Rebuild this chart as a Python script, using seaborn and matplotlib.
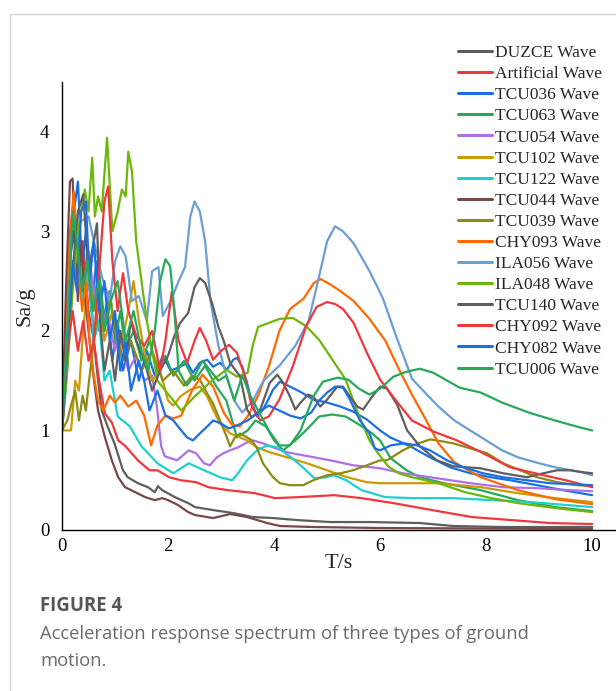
import numpy as np
import pandas as pd
import matplotlib
matplotlib.use("Agg")
import matplotlib.pyplot as plt
from matplotlib.lines import Line2D
from matplotlib.patches import Rectangle
import seaborn as sns

# ---------------- data ----------------
names = ["DUZCE Wave", "Artificial Wave", "TCU036 Wave", "TCU063 Wave", "TCU054 Wave",
         "TCU102 Wave", "TCU122 Wave", "TCU044 Wave", "TCU039 Wave", "CHY093 Wave",
         "ILA056 Wave", "ILA048 Wave", "TCU140 Wave", "CHY092 Wave", "CHY082 Wave",
         "TCU006 Wave"]

colors = ["#5e5e5e", "#f0373c", "#1c6fe3", "#27a85a", "#b06ee8",
          "#cc9a06", "#1fcfcf", "#7a4848", "#8c8c14", "#ff6a00",
          "#6a9ed4", "#6cb80a", "#5e5e5e", "#f0373c", "#1c6fe3",
          "#27a85a"]

t_duzce = [0, 0.08, 0.15, 0.22, 0.3, 0.38, 0.45, 0.52, 0.6, 0.68, 0.75, 0.86, 0.99, 1.09, 1.15, 1.24,
           1.43, 1.62, 1.75, 1.81, 1.89, 2.13, 2.38, 2.51, 2.85, 3.23, 3.6, 3.98, 4.43, 5.06, 5.81,
           6.75, 7.38, 8.32, 9.2, 10]
sa_duzce = [1.0, 1.9, 2.7, 3.0, 2.5, 2.9, 2.3, 2.6, 1.9, 1.5, 1.2, 1.04, 0.87, 0.7, 0.6, 0.53,
            0.47, 0.43, 0.38, 0.44, 0.4, 0.33, 0.27, 0.23, 0.2, 0.17, 0.13, 0.12, 0.1, 0.08, 0.08,
            0.07, 0.04, 0.03, 0.03, 0.03]

t_artificial = [0, 0.08, 0.15, 0.22, 0.3, 0.4, 0.5, 0.6, 0.7, 0.81, 0.94, 1.06, 1.2, 1.43, 1.65, 1.8,
                2.02, 2.24, 2.53, 2.76, 3.13, 3.64, 4.02, 4.46, 5.13, 5.65, 6.25, 6.98, 7.73, 8.47,
                9.2, 10]
sa_artificial = [1.0, 2.0, 3.0, 3.3, 2.6, 2.9, 2.2, 1.9, 1.5, 1.17, 1.08, 0.9, 0.84, 0.7, 0.6, 0.6,
                 0.53, 0.5, 0.48, 0.43, 0.4, 0.37, 0.32, 0.33, 0.35, 0.32, 0.27, 0.2, 0.13, 0.1,
                 0.07, 0.06]

t_tcu036 = [0, 0.1, 0.2, 0.3, 0.38, 0.45, 0.55, 0.65, 0.75, 0.85, 0.95, 1.05, 1.15, 1.3, 1.45, 1.6,
            1.75, 1.9, 2.05, 2.23, 2.36, 2.47, 2.6, 2.74, 2.85, 2.98, 3.11, 3.23, 3.3, 3.4, 3.49,
            3.58, 3.68, 3.79, 3.89, 3.98, 4.11, 4.3, 4.49, 4.74, 5.0, 5.25, 5.49, 5.75, 6.0, 6.19,
            6.57, 6.94, 7.32, 7.7, 8.08, 8.45, 8.96, 9.45, 10]
sa_tcu036 = [1.0, 2.2, 3.1, 3.5, 2.6, 3.0, 2.2, 2.7, 2.0, 2.3, 1.7, 2.1, 1.6, 1.9, 1.5, 1.8,
             1.55, 1.75, 1.6, 1.64, 1.68, 1.58, 1.68, 1.71, 1.64, 1.68, 1.61, 1.71, 1.73, 1.64, 1.48,
             1.28, 1.14, 1.21, 1.31, 1.41, 1.49, 1.44, 1.39, 1.31, 1.28, 1.24, 1.19, 1.11, 1.0, 0.93,
             0.84, 0.73, 0.63, 0.57, 0.53, 0.5, 0.45, 0.4, 0.35]

t_tcu063 = [0, 0.1, 0.2, 0.3, 0.4, 0.5, 0.6, 0.7, 0.8, 0.9, 1.0, 1.1, 1.2, 1.35, 1.5, 1.65, 1.8,
            1.95, 2.1, 2.3, 2.5, 2.7, 2.9, 3.1, 3.3, 3.5, 3.65, 3.85, 4.0, 4.17, 4.4, 4.6, 4.85,
            5.1, 5.35, 5.6, 5.85, 6.0, 6.2, 6.5, 6.75, 7.2, 7.9, 8.6, 9.3, 10]
sa_tcu063 = [1.0, 1.7, 2.5, 2.9, 2.4, 2.8, 2.3, 2.6, 2.1, 2.4, 1.9, 2.2, 1.8, 2.0, 1.7, 1.9, 1.6,
             1.75, 1.55, 1.7, 1.5, 1.65, 1.45, 1.3, 0.93, 1.0, 1.1, 1.04, 0.9, 0.8, 0.9, 1.0, 1.14,
             1.16, 1.14, 1.06, 0.97, 0.9, 0.72, 0.6, 0.53, 0.47, 0.4, 0.3, 0.23, 0.19]

t_tcu054 = [0, 0.1, 0.2, 0.3, 0.4, 0.55, 0.7, 0.85, 1.0, 1.1, 1.25, 1.4, 1.55, 1.7, 1.79, 1.87,
            1.94, 2.17, 2.39, 2.53, 2.68, 2.79, 2.92, 3.04, 3.17, 3.32, 3.49, 3.6, 3.79, 3.98, 4.25,
            4.55, 5.06, 5.49, 6.0, 6.43, 7.07, 7.7, 8.32, 8.96, 9.58, 10]
sa_tcu054 = [1.0, 1.7, 2.5, 2.9, 2.3, 2.6, 2.0, 2.2, 1.8, 1.98, 1.6, 1.75, 1.5, 1.55, 1.24, 0.84,
             0.74, 0.7, 0.8, 0.77, 0.67, 0.65, 0.73, 0.77, 0.8, 0.83, 0.88, 0.9, 0.87, 0.83, 0.78,
             0.75, 0.7, 0.65, 0.62, 0.57, 0.52, 0.47, 0.43, 0.42, 0.4, 0.39]

t_tcu102 = [0, 0.17, 0.25, 0.32, 0.4, 0.5, 0.6, 0.68, 0.8, 0.95, 1.1, 1.25, 1.35, 1.45, 1.55, 1.7,
            1.85, 2.0, 2.1, 2.23, 2.42, 2.6, 2.74, 2.85, 2.98, 3.17, 3.36, 3.49, 3.68, 3.92, 4.25,
            4.62, 5.0, 5.38, 5.75, 6.0, 7.07, 7.9, 8.6, 9.3, 10]
sa_tcu102 = [1.0, 1.0, 1.5, 1.4, 2.0, 2.6, 2.2, 2.45, 1.9, 2.2, 1.8, 2.2, 2.5, 2.1, 1.8, 1.5,
             1.6, 1.3, 1.25, 1.34, 1.41, 1.44, 1.34, 1.21, 1.07, 0.97, 0.93, 0.9, 0.83, 0.78, 0.73,
             0.67, 0.6, 0.53, 0.48, 0.47, 0.47, 0.43, 0.37, 0.32, 0.28]

t_tcu122 = [0, 0.1, 0.2, 0.3, 0.4, 0.5, 0.6, 0.7, 0.8, 0.9, 1.05, 1.28, 1.5, 1.8, 2.1, 2.39, 2.68,
            2.98, 3.21, 3.32, 3.49, 3.68, 3.87, 4.06, 4.32, 4.54, 4.76, 4.98, 5.13, 5.36, 5.65,
            6.1, 6.62, 7.36, 8.1, 8.84, 10]
sa_tcu122 = [1.0, 1.8, 2.6, 3.0, 2.3, 2.6, 1.9, 2.1, 1.5, 1.6, 1.14, 1.04, 0.84, 0.67, 0.57, 0.67, 0.6,
             0.53, 0.5, 0.57, 0.7, 0.8, 0.85, 0.83, 0.73, 0.63, 0.52, 0.53, 0.55, 0.5, 0.4,
             0.33, 0.32, 0.32, 0.3, 0.28, 0.23]

t_tcu044 = [0, 0.08, 0.15, 0.2, 0.25, 0.3, 0.36, 0.42, 0.5, 0.58, 0.68, 0.81, 0.94, 1.06, 1.19,
            1.38, 1.57, 1.75, 1.89, 2.0, 2.19, 2.38, 2.51, 2.85, 3.17, 3.49, 3.87, 4.11, 4.74, 6.0,
            8.0, 10]
sa_tcu044 = [1.0, 2.5, 3.5, 3.53, 2.8, 2.3, 2.9, 2.4, 2.0, 1.6, 1.2, 0.93, 0.7, 0.53, 0.43,
             0.38, 0.33, 0.3, 0.32, 0.3, 0.25, 0.18, 0.15, 0.12, 0.16, 0.13, 0.07, 0.04, 0.03, 0.02,
             0.015, 0.01]

t_tcu039 = [0, 0.1, 0.17, 0.25, 0.32, 0.39, 0.45, 0.5, 0.6, 0.7, 0.8, 0.9, 1.0, 1.15, 1.3, 1.5,
            1.7, 1.9, 2.1, 2.3, 2.45, 2.6, 2.74, 2.85, 2.98, 3.11, 3.17, 3.26, 3.36, 3.49, 3.58,
            3.68, 3.79, 3.98, 4.11, 4.3, 4.55, 4.74, 5.0, 5.25, 5.49, 5.75, 6.0, 6.13, 6.43, 6.62,
            6.94, 7.07, 7.38, 7.7, 8.02, 8.32, 8.64, 8.96, 9.34, 9.72, 10]
sa_tcu039 = [1.0, 1.1, 1.25, 1.4, 1.1, 1.35, 1.2, 1.45, 1.9, 2.3, 2.0, 2.4, 2.0, 1.7, 1.9, 1.6,
             1.8, 1.5, 1.6, 1.45, 1.55, 1.51, 1.37, 1.27, 1.1, 0.93, 0.84, 0.93, 0.97, 0.93, 0.9,
             0.82, 0.67, 0.53, 0.47, 0.45, 0.45, 0.5, 0.55, 0.57, 0.6, 0.65, 0.7, 0.7, 0.8, 0.85,
             0.91, 0.9, 0.87, 0.82, 0.77, 0.67, 0.6, 0.53, 0.48, 0.45, 0.44]

t_chy093 = [0, 0.08, 0.15, 0.22, 0.3, 0.38, 0.45, 0.52, 0.6, 0.68, 0.78, 0.9, 1.0, 1.1, 1.25, 1.4,
            1.55, 1.68, 1.8, 1.95, 2.1, 2.25, 2.45, 2.65, 2.85, 3.05, 3.2, 3.35, 3.5, 3.7, 3.9,
            4.1, 4.3, 4.55, 4.75, 4.88, 5.05, 5.25, 5.5, 5.8, 6.1, 6.35, 6.6, 6.85, 7.1, 7.4, 7.9,
            8.6, 9.3, 10]
sa_chy093 = [1.0, 1.8, 2.9, 3.4, 2.7, 2.2, 2.5, 1.9, 1.55, 1.3, 1.2, 1.35, 1.28, 1.35, 1.24, 1.3,
             1.15, 0.85, 1.05, 1.15, 1.12, 1.15, 1.4, 1.56, 1.44, 1.18, 1.06, 1.04, 1.14, 1.35, 1.64,
             2.0, 2.22, 2.32, 2.48, 2.52, 2.47, 2.4, 2.3, 2.12, 1.9, 1.62, 1.36, 1.12, 0.87, 0.68,
             0.53, 0.4, 0.31, 0.26]

t_ila056 = [0, 0.08, 0.15, 0.25, 0.35, 0.5, 0.6, 0.75, 0.9, 1.0, 1.1, 1.2, 1.32, 1.45, 1.6, 1.7,
            1.82, 1.9, 2.05, 2.2, 2.32, 2.42, 2.5, 2.6, 2.7, 2.8, 2.95, 3.1, 3.25, 3.4, 3.6, 3.8,
            4.1, 4.4, 4.65, 4.85, 5.0, 5.15, 5.3, 5.5, 5.8, 6.05, 6.3, 6.6, 6.9, 7.1, 7.4, 7.7,
            8.0, 8.3, 8.6, 9.0, 9.3, 9.6, 9.8, 10]
sa_ila056 = [1.0, 1.5, 2.3, 2.7, 3.1, 3.15, 2.9, 2.55, 2.3, 2.7, 2.85, 2.75, 2.3, 2.35, 2.1, 2.6,
             2.64, 2.15, 2.3, 2.5, 2.64, 3.15, 3.3, 3.2, 2.9, 2.3, 1.85, 1.55, 1.3, 1.18, 1.3, 1.5,
             1.65, 1.85, 2.1, 2.55, 2.9, 3.05, 3.0, 2.88, 2.6, 2.33, 1.95, 1.52, 1.35, 1.24, 1.1, 1.0,
             0.9, 0.8, 0.73, 0.67, 0.63, 0.6, 0.58, 0.55]

t_ila048 = [0, 0.1, 0.2, 0.3, 0.43, 0.5, 0.57, 0.62, 0.68, 0.75, 0.85, 0.95, 1.05, 1.13, 1.2, 1.25,
            1.32, 1.4, 1.5, 1.6, 1.7, 1.8, 1.95, 2.1, 2.25, 2.5, 2.85, 3.1, 3.3, 3.5, 3.6, 3.7,
            3.9, 4.1, 4.35, 4.6, 4.85, 5.1, 5.35, 5.6, 5.8, 5.95, 6.15, 6.35, 6.6, 7.1, 7.6, 8.1,
            8.6, 9.3, 10]
sa_ila048 = [1.0, 1.6, 2.4, 3.0, 3.42, 3.2, 3.74, 3.15, 3.35, 3.2, 3.94, 3.0, 3.2, 3.42, 3.35, 3.8,
             3.6, 2.9, 2.5, 2.1, 1.8, 1.5, 1.4, 1.3, 1.2, 1.34, 1.51, 1.61, 1.54, 1.58, 1.86, 2.04,
             2.08, 2.12, 2.13, 2.05, 1.91, 1.71, 1.51, 1.15, 0.9, 0.78, 0.64, 0.57, 0.53, 0.47, 0.38,
             0.32, 0.27, 0.22, 0.18]

t_tcu140 = [0, 0.1, 0.2, 0.3, 0.4, 0.5, 0.6, 0.66, 0.72, 0.8, 0.9, 1.0, 1.1, 1.2, 1.3, 1.4, 1.55,
            1.7, 1.85, 2.0, 2.12, 2.23, 2.38, 2.5, 2.6, 2.7, 2.83, 2.95, 3.05, 3.17, 3.36, 3.49,
            3.58, 3.74, 3.92, 4.06, 4.17, 4.3, 4.4, 4.5, 4.64, 4.74, 4.87, 5.0, 5.19, 5.3, 5.43,
            5.57, 5.68, 5.85, 6.0, 6.13, 6.32, 6.51, 6.75, 7.07, 7.38, 7.89, 8.32, 8.77, 9.08, 9.34,
            9.58, 9.83, 10]
sa_tcu140 = [1.0, 1.8, 2.6, 3.2, 3.37, 2.6, 2.9, 3.08, 2.1, 1.6, 1.9, 1.5, 2.0, 1.7, 2.1, 1.9, 1.71,
             1.4, 1.6, 1.75, 1.95, 2.08, 2.18, 2.44, 2.53, 2.48, 2.28, 2.04, 1.9, 1.68, 1.54, 1.21,
             1.13, 1.21, 1.48, 1.56, 1.48, 1.34, 1.21, 1.28, 1.36, 1.34, 1.24, 1.31, 1.44, 1.44, 1.34,
             1.24, 1.21, 1.34, 1.44, 1.42, 1.26, 1.0, 0.84, 0.7, 0.64, 0.62, 0.57, 0.53, 0.57, 0.6,
             0.6, 0.58, 0.57]

t_chy092 = [0, 0.1, 0.2, 0.3, 0.4, 0.5, 0.6, 0.7, 0.8, 0.87, 0.95, 1.05, 1.15, 1.25, 1.4, 1.55,
            1.7, 1.85, 1.95, 2.07, 2.2, 2.36, 2.5, 2.6, 2.72, 2.85, 3.0, 3.15, 3.3, 3.45, 3.58,
            3.74, 3.9, 4.1, 4.35, 4.6, 4.8, 5.0, 5.15, 5.3, 5.5, 5.75, 6.0, 6.3, 6.6, 7.0, 7.45,
            7.95, 8.45, 9.0, 9.5, 10]
sa_chy092 = [1.0, 1.8, 2.2, 1.8, 2.1, 1.7, 1.9, 2.6, 3.3, 3.45, 2.7, 2.2, 2.58, 2.2, 1.95, 1.85,
             2.0, 1.6, 1.9, 2.39, 1.9, 1.68, 1.9, 2.03, 1.9, 1.71, 1.8, 1.86, 1.78, 1.54, 1.24,
             1.1, 1.14, 1.31, 1.64, 2.04, 2.24, 2.29, 2.27, 2.22, 2.08, 1.78, 1.51, 1.3, 1.1, 0.99,
             0.9, 0.77, 0.63, 0.56, 0.5, 0.43]

t_chy082 = [0, 0.1, 0.2, 0.28, 0.36, 0.45, 0.52, 0.6, 0.7, 0.8, 0.9, 1.0, 1.1, 1.2, 1.3, 1.45,
            1.55, 1.65, 1.8, 1.95, 2.1, 2.25, 2.36, 2.47, 2.6, 2.74, 2.85, 3.0, 3.15, 3.3, 3.5,
            3.7, 3.9, 4.1, 4.3, 4.5, 4.7, 4.85, 5.0, 5.15, 5.3, 5.43, 5.62, 5.8, 5.9, 6.0, 6.2,
            6.45, 6.7, 6.94, 7.26, 7.57, 7.94, 8.32, 8.77, 9.2, 9.6, 10]
sa_chy082 = [1.0, 1.9, 2.7, 2.4, 3.2, 3.3, 2.5, 2.9, 2.2, 2.5, 1.9, 2.2, 1.6, 1.9, 1.4, 1.7,
             1.5, 1.2, 1.4, 1.15, 1.1, 1.0, 0.93, 0.9, 0.97, 1.04, 1.1, 1.07, 1.02, 1.05, 1.1,
             1.18, 1.25, 1.2, 1.15, 1.12, 1.18, 1.3, 1.38, 1.44, 1.43, 1.31, 1.1, 0.97, 0.82, 0.8, 0.85,
             0.87, 0.85, 0.8, 0.7, 0.63, 0.57, 0.53, 0.5, 0.47, 0.46, 0.45]

t_tcu006 = [0, 0.1, 0.2, 0.28, 0.38, 0.48, 0.58, 0.7, 0.8, 0.92, 1.05, 1.2, 1.35, 1.5, 1.62, 1.75,
            1.85, 1.95, 2.04, 2.12, 2.2, 2.35, 2.5, 2.65, 2.8, 2.95, 3.1, 3.25, 3.4, 3.55, 3.7,
            3.9, 4.1, 4.3, 4.5, 4.74, 4.92, 5.2, 5.4, 5.6, 5.8, 6.0, 6.25, 6.5, 6.75, 7.0, 7.3,
            7.5, 7.9, 8.3, 8.8, 9.3, 9.7, 10]
sa_tcu006 = [1.0, 2.0, 3.2, 2.9, 2.4, 2.7, 2.2, 2.5, 2.0, 2.3, 2.5, 1.9, 2.2, 1.8, 1.6, 2.0,
             2.5, 2.72, 2.65, 2.2, 1.6, 1.45, 1.55, 1.7, 1.6, 1.5, 1.55, 1.3, 1.55, 1.35, 1.2,
             1.0, 0.85, 0.85, 1.0, 1.34, 1.49, 1.53, 1.51, 1.42, 1.36, 1.42, 1.54, 1.59, 1.62, 1.58,
             1.49, 1.43, 1.38, 1.28, 1.18, 1.1, 1.04, 1.0]

x_ticks = [0, 2, 4, 6, 8, 10]
y_ticks = [0, 1, 2, 3, 4]

series = [(t_duzce, sa_duzce), (t_artificial, sa_artificial), (t_tcu036, sa_tcu036),
          (t_tcu063, sa_tcu063), (t_tcu054, sa_tcu054), (t_tcu102, sa_tcu102),
          (t_tcu122, sa_tcu122), (t_tcu044, sa_tcu044), (t_tcu039, sa_tcu039),
          (t_chy093, sa_chy093), (t_ila056, sa_ila056), (t_ila048, sa_ila048),
          (t_tcu140, sa_tcu140), (t_chy092, sa_chy092), (t_chy082, sa_chy082),
          (t_tcu006, sa_tcu006)]

frames = []
for name, (t, s) in zip(names, series):
    frames.append(pd.DataFrame({"T": t, "Sa": s, "wave": name}))
df = pd.concat(frames, ignore_index=True)
palette = dict(zip(names, colors))

# ---------------- figure ----------------
sns.set_theme(style="white")
plt.rcParams["font.family"] = ["Liberation Serif", "DejaVu Serif"]

fig = plt.figure(figsize=(6.16, 6.91), dpi=100)
ax = fig.add_axes([62 / 616, 1 - 530 / 691, (615 - 62) / 616, (530 - 82) / 691])

sns.lineplot(data=df, x="T", y="Sa", hue="wave", hue_order=names, palette=palette,
             estimator=None, sort=False, linewidth=1.6, legend=False, ax=ax)

ax.set_xlim(0, 10.43)
ax.set_ylim(0, 4.5)
ax.set_xticks(x_ticks)
ax.set_yticks(y_ticks)
ax.tick_params(direction="in", length=5, width=1, labelsize=13.5, colors="black", pad=6)
ax.tick_params(axis="y", pad=9)
for sp in ["top", "right"]:
    ax.spines[sp].set_visible(False)
for sp in ["left", "bottom"]:
    ax.spines[sp].set_color("black")
    ax.spines[sp].set_linewidth(1.0)
ax.set_xlabel("T/s", fontsize=16, labelpad=-1)
ax.set_ylabel("Sa/g", fontsize=16, labelpad=4)

handles = [Line2D([0], [0], color=c, lw=2.2) for c in colors]
fig.legend(handles, names, loc="upper left", bbox_to_anchor=(458 / 616, 1 - 45 / 691),
           frameon=False, fontsize=12.5, handlelength=1.95, handletextpad=0.18,
           labelspacing=0.285, borderpad=0, borderaxespad=0)

# outer frame of the figure panel
fig.patches.append(Rectangle((10 / 616, -0.1), 1.2, 1.1 - 14 / 691, transform=fig.transFigure,
                             fill=False, edgecolor="#d4d4d4", linewidth=1.0))

cap_font = ["Open Sans", "DejaVu Sans"]
fig.text(40 / 616, 1 - 606 / 691, "FIGURE 4", family=cap_font,
         fontsize=13.4, fontweight="bold", color="#555555", va="center", ha="left")
fig.text(40 / 616, 1 - 634 / 691, "Acceleration response spectrum of three types of ground",
         family=cap_font, fontsize=13.2, color="#6a6a6a", va="center", ha="left")
fig.text(40 / 616, 1 - 661 / 691, "motion.", family=cap_font,
         fontsize=13.2, color="#6a6a6a", va="center", ha="left")

fig.savefig("out.png", dpi=100)
